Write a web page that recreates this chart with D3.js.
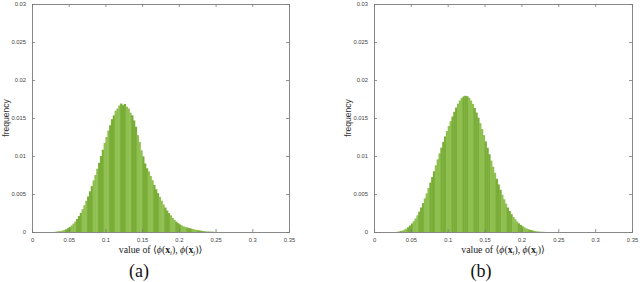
<!DOCTYPE html>
<html>
<head>
<meta charset="utf-8">
<script src="https://cdn.jsdelivr.net/npm/d3@7"></script>
<style>
  body { margin: 0; background: #fff; }
  svg { display: block; }
  .tick-label { font-family: "Liberation Sans", Arial, sans-serif; font-size: 5.8px; fill: #444; }
  .ylab { font-family: "Liberation Sans", Arial, sans-serif; font-size: 8.5px; fill: #333; }
  .xlab { font-family: "Liberation Serif", "DejaVu Serif", serif; font-size: 9.8px; fill: #222; }
  .caption { font-family: "Liberation Serif", "DejaVu Serif", serif; font-size: 18px; fill: #111; }
</style>
</head>
<body>
<svg id="chart" width="640" height="282"></svg>
<script>
// histogram bins: start of first bin and bin width (value axis)
var binStart = 0.03;
var binWidth = 0.0025;

// (a) frequency per bin
var freqA = [
  0.00002, 0.00005, 0.00008, 0.00012, 0.00018, 0.00026, 0.00036, 0.00050,
  0.00066, 0.00086, 0.00110, 0.00138, 0.00172, 0.00210, 0.00252, 0.00300,
  0.00352, 0.00410, 0.00468, 0.00536, 0.00604, 0.00680, 0.00750, 0.00832,
  0.00910, 0.01000, 0.01082, 0.01172, 0.01250, 0.01335, 0.01405, 0.01485,
  0.01535, 0.01595, 0.01625, 0.01665, 0.01690, 0.01668, 0.01685, 0.01648,
  0.01625, 0.01570, 0.01535, 0.01468, 0.01385, 0.01275, 0.01185, 0.01075,
  0.00995, 0.00902, 0.00838, 0.00798, 0.00738, 0.00682, 0.00618, 0.00562,
  0.00512, 0.00462, 0.00412, 0.00362, 0.00322, 0.00282, 0.00248, 0.00218,
  0.00186, 0.00160, 0.00136, 0.00116, 0.00100, 0.00086, 0.00075, 0.00066,
  0.00058, 0.00051, 0.00045, 0.00039, 0.00033, 0.00028, 0.00023, 0.00019,
  0.00015, 0.00012, 0.00009, 0.00007, 0.00005, 0.00004, 0.00003, 0.00002,
  0.00001
];

// (b) frequency per bin
var freqB = [
  0.00002, 0.00006, 0.00012, 0.00020, 0.00032, 0.00046, 0.00064, 0.00086,
  0.00112, 0.00142, 0.00178, 0.00220, 0.00268, 0.00322, 0.00380, 0.00442,
  0.00508, 0.00578, 0.00650, 0.00724, 0.00800, 0.00878, 0.00956, 0.01034,
  0.01110, 0.01185, 0.01258, 0.01328, 0.01395, 0.01458, 0.01520, 0.01582,
  0.01638, 0.01688, 0.01730, 0.01762, 0.01783, 0.01792, 0.01786, 0.01765,
  0.01730, 0.01685, 0.01632, 0.01572, 0.01505, 0.01432, 0.01355, 0.01275,
  0.01192, 0.01108, 0.01024, 0.00940, 0.00858, 0.00778, 0.00700, 0.00626,
  0.00556, 0.00490, 0.00430, 0.00374, 0.00322, 0.00276, 0.00234, 0.00198,
  0.00166, 0.00138, 0.00114, 0.00093, 0.00076, 0.00061, 0.00048, 0.00038,
  0.00029, 0.00022, 0.00016, 0.00012, 0.00008, 0.00005, 0.00003, 0.00002,
  0.00001
];

var xTicks = [0, 0.05, 0.1, 0.15, 0.2, 0.25, 0.3, 0.35];
var xTickLabels = ["0", "0.05", "0.1", "0.15", "0.2", "0.25", "0.3", "0.35"];
var yTicks = [0, 0.005, 0.01, 0.015, 0.02, 0.025, 0.03];
var yTickLabels = ["0", "0.005", "0.01", "0.015", "0.02", "0.025", "0.03"];
var captions = ["(a)", "(b)"];

var svg = d3.select("#chart");

var drawPanel = function(opts) {
  var x = d3.scaleLinear().domain([0, 0.35]).range([opts.left, opts.right]);
  var y = d3.scaleLinear().domain([0, 0.03]).range([opts.bottom, opts.top]);
  var g = svg.append("g");

  // bars, coloured in alternating bands of three bins
  g.append("g")
    .selectAll("rect")
    .data(opts.freq)
    .join("rect")
    .attr("x", function(d, i) { return x(binStart + i * binWidth); })
    .attr("width", function(d, i) { return x(binStart + (i + 1) * binWidth) - x(binStart + i * binWidth) + 0.5; })
    .attr("y", function(d) { return y(d); })
    .attr("height", function(d) { return y(0) - y(d); })
    .attr("fill", function(d, i) { return Math.floor(i / 3) % 2 === 0 ? "#79ad37" : "#8fbf50"; });

  // axes: bottom/left with labels, top/right ticks only (box)
  var tickLen = 3;
  g.append("g")
    .attr("transform", "translate(0," + opts.bottom + ")")
    .call(d3.axisBottom(x).tickValues(xTicks).tickSize(-tickLen).tickPadding(6)
      .tickFormat(function(d, i) { return xTickLabels[i]; }));
  g.append("g")
    .attr("transform", "translate(0," + opts.top + ")")
    .call(d3.axisTop(x).tickValues(xTicks).tickSize(-tickLen).tickFormat(""));
  g.append("g")
    .attr("transform", "translate(" + opts.left + ",0)")
    .call(d3.axisLeft(y).tickValues(yTicks).tickSize(-tickLen).tickPadding(6)
      .tickFormat(function(d, i) { return yTickLabels[i]; }));
  g.append("g")
    .attr("transform", "translate(" + opts.right + ",0)")
    .call(d3.axisRight(y).tickValues(yTicks).tickSize(-tickLen).tickFormat(""));

  g.selectAll(".domain").attr("stroke", "#7a7a7a").attr("stroke-width", 0.9);
  g.selectAll(".tick line").attr("stroke", "#7a7a7a").attr("stroke-width", 0.8);
  g.selectAll(".tick text").attr("class", "tick-label").attr("font-size", null).attr("font-family", null).attr("fill", null);

  // y axis title
  g.append("text")
    .attr("class", "ylab")
    .attr("transform", "translate(" + (opts.left - 23) + "," + ((opts.top + opts.bottom) / 2) + ") rotate(-90)")
    .attr("text-anchor", "middle")
    .text("frequency");

  // x axis title: value of <phi(x_i), phi(x_j)>
  var xl = g.append("text")
    .attr("class", "xlab")
    .attr("x", (opts.left + opts.right) / 2)
    .attr("y", opts.bottom + 21)
    .attr("text-anchor", "middle");
  xl.append("tspan").text("value of \u27E8");
  xl.append("tspan").attr("font-style", "italic").text("\u03D5");
  xl.append("tspan").text("(");
  xl.append("tspan").attr("font-weight", "bold").text("x");
  xl.append("tspan").attr("font-style", "italic").attr("font-size", "6.5px").attr("dy", 1.5).text("i");
  xl.append("tspan").attr("dy", -1.5).text("), ");
  xl.append("tspan").attr("font-style", "italic").text("\u03D5");
  xl.append("tspan").text("(");
  xl.append("tspan").attr("font-weight", "bold").text("x");
  xl.append("tspan").attr("font-style", "italic").attr("font-size", "6.5px").attr("dy", 1.5).text("j");
  xl.append("tspan").attr("dy", -1.5).text(")\u27E9");

  g.append("text")
    .attr("class", "caption")
    .attr("x", opts.captionX)
    .attr("y", 277)
    .attr("text-anchor", "middle")
    .text(opts.caption);
};

drawPanel({ left: 32, right: 289, top: 4, bottom: 232, freq: freqA, caption: captions[0], captionX: 139 });
drawPanel({ left: 374, right: 632, top: 4, bottom: 232, freq: freqB, caption: captions[1], captionX: 481 });
</script>
</body>
</html>
